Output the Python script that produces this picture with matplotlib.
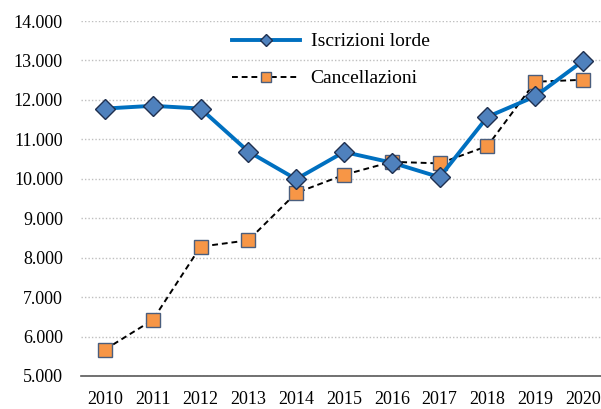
import matplotlib.pyplot as plt
from matplotlib.patches import Rectangle
from matplotlib.ticker import FuncFormatter

anni = ["2010", "2011", "2012", "2013", "2014", "2015", "2016", "2017", "2018", "2019", "2020"]
iscrizioni = [11780, 11850, 11780, 10690, 9990, 10680, 10410, 10040, 11570, 12090, 12990]
cancellazioni = [5670, 6420, 8280, 8440, 9640, 10100, 10430, 10390, 10830, 12460, 12510]

plt.rcParams['font.family'] = ['Liberation Serif', 'DejaVu Serif']

fig = plt.figure(figsize=(6.01, 4.09), dpi=100)
ax = fig.add_axes([81 / 601, 33 / 409, 526 / 601, 355 / 409])

x = list(range(len(anni)))
ax.plot(x, iscrizioni, color='#0070C0', lw=2.8, marker='D', ms=10,
        mfc='#4F81BD', mec='#1F2F4F', mew=1.0, label="Iscrizioni lorde", zorder=4)
ax.plot(x, cancellazioni, color='black', lw=1.4, dashes=(3, 2), marker='s', ms=10,
        mfc='#F79646', mec='#4A5E7E', mew=1.0, label="Cancellazioni", zorder=3)

ax.set_xlim(-0.5, len(anni) - 0.5)
ax.set_ylim(5000, 14000)
ax.set_yticks(range(5000, 14001, 1000))
ax.yaxis.set_major_formatter(FuncFormatter(lambda v, p: f"{int(v):,}".replace(",", ".")))
ax.set_xticks(x)
ax.set_xticklabels(anni)
ax.tick_params(axis='both', length=0, labelsize=13, colors='black')
ax.tick_params(axis='x', pad=11)
ax.tick_params(axis='y', pad=13)

ax.grid(axis='y', color='#BFBFBF', linestyle=(0, (1, 1.5)), lw=1.0, zorder=0)
for s in ['left', 'right', 'top']:
    ax.spines[s].set_visible(False)
ax.spines['bottom'].set_color('#595959')
ax.spines['bottom'].set_linewidth(1.2)

# white box behind legend
ax.add_patch(Rectangle((0.2015, 0.806), 0.5475, 0.3, transform=ax.transAxes,
                       facecolor='white', edgecolor='none', zorder=1, clip_on=False))

leg = ax.legend(loc='center left', bbox_to_anchor=(0.287, 0.89), frameon=False,
                fontsize=14, handlelength=3.5, handletextpad=0.55, labelspacing=1.0,
                borderpad=0, borderaxespad=0)
leg.legend_handles[0].set_markersize(6)
leg.legend_handles[1].set_markersize(7)

fig.savefig("out.png", dpi=100)
